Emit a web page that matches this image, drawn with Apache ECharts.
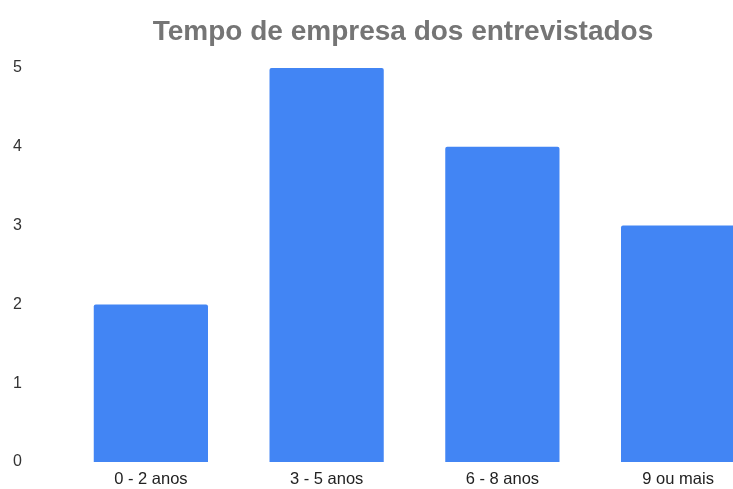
<!DOCTYPE html>
<html><head><meta charset="utf-8">
<script src="https://cdn.jsdelivr.net/npm/echarts@6/dist/echarts.min.js"></script>
<style>html,body{margin:0;padding:0;background:#fff;overflow:hidden;width:733px;height:489px}#c{width:766px;height:489px}</style>
</head><body><div id="c"></div>
<script>
const categories = ['0 - 2 anos', '3 - 5 anos', '6 - 8 anos', '9 ou mais'];
const values = [2, 5, 4, 3];
const yTicks = [0, 1, 2, 3, 4, 5];
const chart = echarts.init(document.getElementById('c'));
chart.setOption({
  animation: false,
  title: {
    text: 'Tempo de empresa dos entrevistados',
    left: 398, top: 13, textAlign: 'center',
    textStyle: {fontFamily: 'Liberation Sans, Arial', fontSize: 28, fontWeight: 'bold', color: '#757575'}
  },
  grid: {left: 63, top: 68, right: 0, bottom: 27, containLabel: false},
  xAxis: {
    type: 'category', data: categories,
    axisLine: {show: false}, axisTick: {show: false},
    axisLabel: {margin: 9, fontFamily: 'Liberation Sans, Arial', fontSize: 16.5, color: '#222'}
  },
  yAxis: {
    type: 'value', min: yTicks[0], max: yTicks[yTicks.length - 1], interval: 1,
    splitLine: {show: false}, axisLine: {show: false}, axisTick: {show: false},
    axisLabel: {margin: 41, fontFamily: 'Liberation Sans, Arial', fontSize: 16, color: '#333'}
  },
  series: [{
    type: 'bar', data: values, barWidth: '65%',
    itemStyle: {color: '#4285F4', borderRadius: [2, 2, 0, 0]}
  }]
});
</script></body></html>
